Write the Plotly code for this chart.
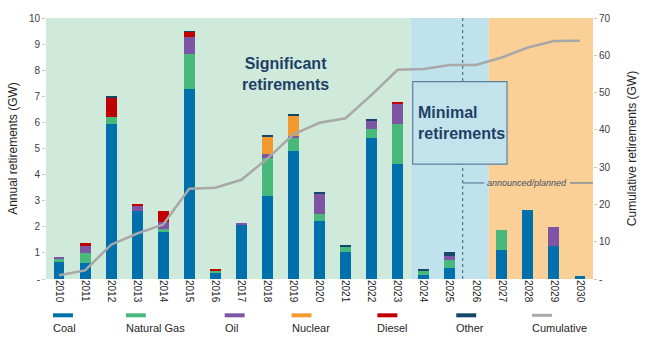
import plotly.graph_objects as go

years = [str(y) for y in range(2010, 2031)]

coal =        [0.65, 0.63, 5.94, 2.61, 1.81, 7.29, 0.25, 2.07, 3.18, 4.91, 2.24, 1.03, 5.41, 4.41, 0.16, 0.41, 0, 1.11, 2.64, 1.27, 0.13]
natural_gas = [0.13, 0.37, 0.25, 0.00, 0.10, 1.32, 0.06, 0.00, 1.44, 0.50, 0.25, 0.23, 0.33, 1.52, 0.17, 0.32, 0, 0.77, 0.00, 0.00, 0.00]
oil =         [0.04, 0.26, 0.00, 0.17, 0.29, 0.67, 0.00, 0.04, 0.18, 0.07, 0.79, 0.00, 0.35, 0.80, 0.00, 0.15, 0, 0.00, 0.00, 0.71, 0.00]
nuclear =     [0.00, 0.00, 0.00, 0.00, 0.00, 0.00, 0.00, 0.00, 0.63, 0.79, 0.00, 0.00, 0.00, 0.00, 0.00, 0.00, 0, 0.00, 0.00, 0.00, 0.00]
diesel =      [0.00, 0.11, 0.78, 0.11, 0.39, 0.20, 0.08, 0.00, 0.00, 0.00, 0.00, 0.00, 0.00, 0.05, 0.00, 0.00, 0, 0.00, 0.00, 0.00, 0.00]
other =       [0.00, 0.00, 0.05, 0.00, 0.00, 0.02, 0.00, 0.00, 0.10, 0.04, 0.07, 0.05, 0.04, 0.00, 0.06, 0.14, 0, 0.00, 0.00, 0.00, 0.00]
cumulative =  [1.0, 2.3, 9.2, 12.2, 14.6, 24.2, 24.5, 26.6, 32.3, 38.8, 41.9, 43.1, 49.4, 56.1, 56.3, 57.4, 57.4, 59.4, 62.1, 63.8, 63.9]

series_names = ["Coal", "Natural Gas", "Oil", "Nuclear", "Diesel", "Other"]
series_values = [coal, natural_gas, oil, nuclear, diesel, other]
series_colors = ["#0070AC", "#48B97A", "#7E55A4", "#F29A2E", "#C00000", "#16466A"]
cum_name = "Cumulative"
cum_color = "#A8A8A8"

left_ticks = list(range(0, 11))
left_labels = ["-"] + [str(v) for v in range(1, 11)]
right_ticks = list(range(0, 71, 10))
right_labels = ["-"] + [str(v) for v in range(10, 71, 10)]

FONT = "Liberation Sans, Arial"

fig = go.Figure()
for name, vals, col in zip(series_names, series_values, series_colors):
    fig.add_trace(go.Bar(x=years, y=vals, name=name, marker=dict(color=col, line=dict(width=0)),
                         showlegend=False))
fig.add_trace(go.Scatter(x=years, y=cumulative, name=cum_name, yaxis="y2", mode="lines",
                         line=dict(color=cum_color, width=2.5), showlegend=False))

# background regions
regions = [(-0.5, 13.5, "#CFE9DA"), (13.5, 16.5, "#C0E2EC"), (16.5, 20.5, "#FBD097")]
for x0, x1, c in regions:
    fig.add_shape(type="rect", xref="x", yref="paper", x0=x0, x1=x1, y0=0, y1=1,
                  fillcolor=c, line=dict(width=0), layer="below")

# dashed divider
fig.add_shape(type="line", xref="x", yref="paper", x0=15.5, x1=15.5, y0=0, y1=1,
              line=dict(color="#3E6180", width=1, dash="3px,3px"))

# Minimal retirements box
fig.add_shape(type="rect", xref="x", yref="y", x0=13.58, x1=17.2, y0=4.4, y1=7.56,
              fillcolor="#C3E3EC", line=dict(color="#5E7F9B", width=1.2))
fig.add_annotation(xref="x", yref="y", x=13.72, y=5.98, text="<b>Minimal<br>retirements</b>",
                   showarrow=False, xanchor="left", yanchor="middle", align="left",
                   font=dict(family=FONT, size=16, color="#1E3F66"))
fig.add_annotation(xref="x", yref="y", x=8.68, y=7.85, text="<b>Significant<br>retirements</b>",
                   showarrow=False, xanchor="center", yanchor="middle", align="center",
                   font=dict(family=FONT, size=16, color="#1E3F66"))

# announced/planned marker
fig.add_shape(type="line", xref="x", yref="y", x0=15.5, x1=16.33, y0=3.68, y1=3.68,
              line=dict(color="#5E7F9B", width=1.2))
fig.add_shape(type="line", xref="x", yref="y", x0=19.62, x1=20.5, y0=3.68, y1=3.68,
              line=dict(color="#5E7F9B", width=1.2))
fig.add_annotation(xref="x", yref="y", x=17.96, y=3.68, text="<i>announced/planned</i>",
                   showarrow=False, xanchor="center", yanchor="middle",
                   font=dict(family=FONT, size=9, color="#3F4F63"))

# custom legend (line swatch above text)
legend_x_px = [52, 125, 224, 291, 377, 456, 532]
names_all = series_names + [cum_name]
colors_all = series_colors + [cum_color]
plot_l, plot_w, plot_b, plot_h = 45, 548, 279, 266
for px, nm, col in zip(legend_x_px, names_all, colors_all):
    x0 = (px - plot_l) / plot_w
    x1 = (px + 20 - plot_l) / plot_w
    ys = (plot_b - 316) / plot_h
    fig.add_shape(type="line", xref="paper", yref="paper", x0=x0, x1=x1, y0=ys, y1=ys,
                  line=dict(color=col, width=4 if nm != cum_name else 3))
    fig.add_annotation(xref="paper", yref="paper", x=x0, y=(plot_b - 329) / plot_h, text=nm,
                       showarrow=False, xanchor="left", yanchor="middle", xshift=-2,
                       font=dict(family=FONT, size=11, color="#262626"))

fig.update_layout(
    width=651, height=341,
    margin=dict(l=45, r=58, t=13, b=62),
    barmode="stack", bargap=0.58,
    plot_bgcolor="white", paper_bgcolor="white",
    font=dict(family=FONT, size=10, color="#404040"),
    xaxis=dict(type="category", range=[-0.5, 20.5], tickangle=90, showgrid=False,
               ticks="", tickfont=dict(size=10, color="#262626"), showline=False),
    yaxis=dict(range=[0, 10], tickvals=left_ticks, ticktext=left_labels, showgrid=False,
               ticks="outside", ticklen=3, tickcolor="#C8C8C8", zeroline=False,
               title=dict(text="Annual retirements (GW)", font=dict(size=12, color="#262626"), standoff=8),
               tickfont=dict(size=10, color="#404040")),
    yaxis2=dict(range=[0, 70], tickvals=right_ticks, ticktext=right_labels, overlaying="y",
                side="right", showgrid=False, ticks="outside", ticklen=3, tickcolor="#C8C8C8",
                zeroline=False,
                title=dict(text="Cumulative retirements (GW)", font=dict(size=12, color="#262626"), standoff=18),
                tickfont=dict(size=10, color="#404040")),
)

fig.write_html("out.html")
